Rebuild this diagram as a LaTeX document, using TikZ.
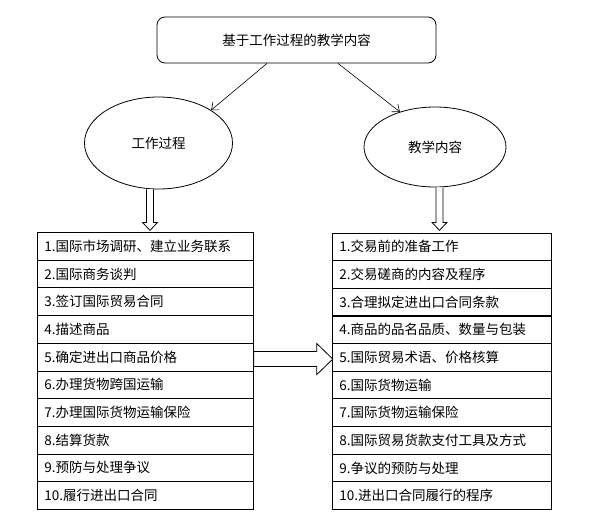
\documentclass[tikz,border=0pt]{standalone}
\usepackage{fontspec}
\setmainfont{Noto Sans CJK SC}
\usetikzlibrary{arrows.meta}
\usetikzlibrary{positioning}
\usetikzlibrary{shapes.geometric}

\tikzset{
	every node/.style={font=\fontsize{13.5}{16}\selectfont},
	rowbox/.style={draw, anchor=north west, minimum height=27.7pt, inner xsep=7pt, inner ysep=0pt, text width=#1, align=left},
	hollow/.style={draw, fill=white, line width=0.8pt},
	thinarrow/.style={-{Straight Barb[length=6pt,width=10pt]}, line width=0.6pt}
}

\begin{document}
\begin{tikzpicture}[x=1pt, y=-1pt, line width=0.8pt]
		\useasboundingbox (0,0) rectangle (593,530);
		% top box and the two ellipses
		\node[draw, rounded corners=8pt, minimum width=279pt, minimum height=46pt] (top) at (296.5,40) {基于工作过程的教学内容};
		\node[draw, ellipse, inner sep=0pt, minimum width=148pt, minimum height=92pt] (gzgc) at (158.5,143) {工作过程};
		\node[draw, ellipse, inner sep=0pt, minimum width=142pt, minimum height=80pt] (jxnr) at (435,147) {教学内容};
		\draw[thinarrow] ([xshift=-29.5pt]top.south) -- (gzgc.north east);
		\draw[thinarrow] ([xshift=41.5pt]top.south) -- (jxnr.135);
		
		% the two lists
		\foreach \i/\t in {1/国际市场调研、建立业务联系, 2/国际商务谈判, 3/签订国际贸易合同, 4/描述商品, 5/确定进出口商品价格, 6/办理货物跨国运输, 7/办理国际货物运输保险, 8/结算货款, 9/预防与处理争议, 10/履行进出口合同}
		{
			\node[rowbox=202pt] (l\i) at (37,{232+(\i-1)*27.7}) {\i.\t};
		}
		\foreach \i/\t in {1/交易前的准备工作, 2/交易磋商的内容及程序, 3/合理拟定进出口合同条款, 4/商品的品名品质、数量与包装, 5/国际贸易术语、价格核算, 6/国际货物运输, 7/国际货物运输保险, 8/国际贸易货款支付工具及方式, 9/争议的预防与处理, 10/进出口合同履行的程序}
		{
			\node[rowbox=205pt] (r\i) at (332,{232.5+(\i-1)*27.65}) {\i.\t};
		}
		
		% hollow arrows
		\coordinate (la) at ([xshift=-8.5pt]gzgc.south);
		\coordinate (ra) at ([xshift=4.5pt]jxnr.south);
		\draw[hollow] ([xshift=-3.5pt]la) -- ++(0,33) -- ++(-4,0) -- ++(7.5,8) -- ++(7.5,-8) -- ++(-4,0) -- ++(0,-33);
		\draw[hollow] ([xshift=-3.5pt]ra) -- ++(0,35) -- ++(-4,0) -- ++(7.5,8) -- ++(7.5,-8) -- ++(-4,0) -- ++(0,-35);
		\coordinate (ba) at ([yshift=-2pt]l5.east);
		\draw[hollow] ([yshift=7.5pt]ba) -- ++(63,0) -- ++(0,-8) -- ++(16,15.5) -- ++(-16,15.5) -- ++(0,-8) -- ++(-63,0) -- cycle;
	\end{tikzpicture}
\end{document}
